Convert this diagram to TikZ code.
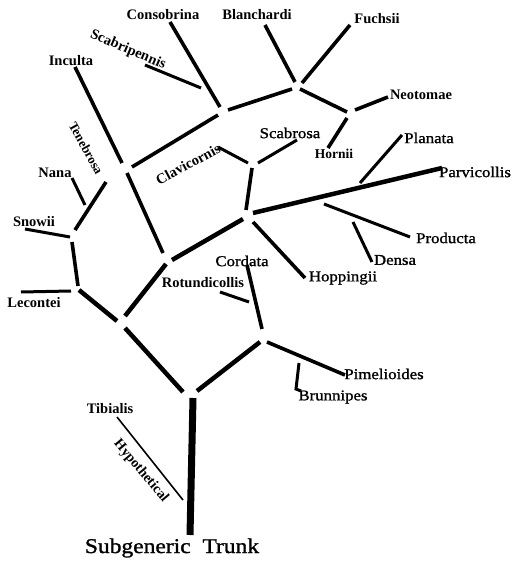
\documentclass[tikz,border=0pt]{standalone}
\usepackage{fontspec}
\setmainfont{Liberation Serif}
\newfontfamily\widefont[FakeStretch=1.12,FakeBold=1.2]{Liberation Serif}
\begin{document}
\begin{tikzpicture}[x=1pt,y=-1pt,
  trunk/.style={line width=7pt},
  br/.style={line width=4.5pt},
  tw/.style={line width=3.6pt},
  ld/.style={line width=3pt},
  thinl/.style={line width=1.6pt},
  lb/.style={inner sep=0pt, font=\fontsize{14.5}{15}\selectfont\bfseries},
  lr/.style={inner sep=0pt, font=\fontsize{15}{16}\selectfont\widefont}]
\useasboundingbox (0,0) rectangle (511,561);
% ---- coordinates
\coordinate (trT) at (193,398); \coordinate (trB) at (190,535);
\coordinate (yl1) at (183,392); \coordinate (yl2) at (125,328);
\coordinate (yr1) at (197,391); \coordinate (yr2) at (260,342);
\coordinate (p1) at (267,342);  \coordinate (p2) at (345,375);
\coordinate (b1) at (299,363);  \coordinate (b2) at (296,389); \coordinate (b3) at (301,391);
\coordinate (c1) at (262,329);  \coordinate (c2) at (247,265);
\coordinate (r1) at (220,292);  \coordinate (r2) at (249,302);
\coordinate (l1) at (117,321);  \coordinate (l2) at (79,290);
\coordinate (lc1) at (71,291);  \coordinate (lc2) at (21,292);
\coordinate (s1) at (78,286);   \coordinate (s2) at (72,242);
\coordinate (sn1) at (70,237);  \coordinate (sn2) at (25,229);
\coordinate (t1) at (75,230);   \coordinate (t2) at (106,182);
\coordinate (n1) at (85,205);   \coordinate (n2) at (72,178);
\coordinate (m1) at (125,316);  \coordinate (m2) at (166,264);
\coordinate (a1) at (163,253);  \coordinate (a2) at (127,173);
\coordinate (i1) at (122,163);  \coordinate (i2) at (75,67);
\coordinate (k1) at (132,167);  \coordinate (k2) at (218,115);
\coordinate (co1) at (220,107); \coordinate (co2) at (170,22);
\coordinate (sp1) at (201,88);  \coordinate (sp2) at (145,65);
\coordinate (cd1) at (228,110); \coordinate (cd2) at (292,89);
\coordinate (bl1) at (295,82);  \coordinate (bl2) at (265,25);
\coordinate (f1) at (302,83);   \coordinate (f2) at (350,25);
\coordinate (de1) at (300,89);  \coordinate (de2) at (347,112);
\coordinate (ne1) at (355,110); \coordinate (ne2) at (388,97);
\coordinate (h1) at (347,118);  \coordinate (h2) at (328,148);
\coordinate (bf1) at (172,260); \coordinate (bf2) at (243,219);
\coordinate (fg1) at (246,210); \coordinate (fg2) at (252,168);
\coordinate (cl1) at (248,163); \coordinate (cl2) at (218,147);
\coordinate (sc1) at (258,163); \coordinate (sc2) at (297,140);
\coordinate (pv1) at (253,213); \coordinate (pv2) at (442,168);
\coordinate (hp1) at (253,222); \coordinate (hp2) at (305,278);
\coordinate (pl1) at (360,183); \coordinate (pl2) at (402,135);
\coordinate (pr1) at (324,204); \coordinate (pr2) at (410,237);
\coordinate (dn1) at (353,222); \coordinate (dn2) at (372,262);
\coordinate (hy1) at (117,417); \coordinate (hy2) at (183,500);
% ---- labels
\node[lr] (Lpim) at (384,374) {Pimelioides};
\node[lr] (Lbru) at (333,397) {Brunnipes};
\node[lr] (Lcor) at (242,261) {Cordata};
\node[lb] (Lrot) at (203,283) {Rotundicollis};
\node[lb] (Llec) at (34,303) {Lecontei};
\node[lb] (Lsno) at (34,222) {Snowii};
\node[lb, rotate=-61, font=\fontsize{13}{14}\selectfont\bfseries] (Lten) at (86,148) {Tenebrosa};
\node[lb] (Lnan) at (55,173) {Nana};
\node[lb] (Linc) at (71,61) {Inculta};
\node[lb] (Lcon) at (163,15) {Consobrina};
\node[lb, rotate=-23] (Lsca) at (128,50) {Scabripennis};
\node[lb] (Lbla) at (257,15) {Blanchardi};
\node[lb] (Lfuc) at (377,19) {Fuchsii};
\node[lb] (Lneo) at (421,95) {Neotomae};
\node[lb, font=\fontsize{13.5}{14}\selectfont\bfseries] (Lhor) at (334,154) {Hornii};
\node[lb, rotate=28] (Lcla) at (188,164) {Clavicornis};
\node[lr] (Lscb) at (290,133) {Scabrosa};
\node[lr] (Lpar) at (475,172) {Parvicollis};
\node[lr] (Lhop) at (343,278) {Hoppingii};
\node[lr] (Lpla) at (429,138) {Planata};
\node[lr] (Lpro) at (446,238) {Producta};
\node[lr] (Lden) at (395,260) {Densa};
\node[lb] (Ltib) at (110,409) {Tibialis};
\node[lb, rotate=-50, font=\fontsize{14}{15}\selectfont\bfseries] (Lhyp) at (141,471) {Hypothetical};
\node[inner sep=0pt, font=\fontsize{21}{22}\selectfont\widefont] (Ltru) at (172,548) {Subgeneric\ \ Trunk};
% ---- branches
\draw[trunk] (trT) -- (trB);
\draw[br] (yl1) -- (yl2);
\draw[br] (yr1) -- (yr2);
\draw[br] (m1) -- (m2);
\draw[br] (l1) -- (l2);
\draw[br] (bf1) -- (bf2);
\draw[tw] (p1) -- (p2);
\draw[ld] (b1) -- (b2) -- (b3);
\draw[tw] (c1) -- (c2);
\draw[ld] (r1) -- (r2);
\draw[ld] (lc1) -- (lc2);
\draw[tw] (s1) -- (s2);
\draw[ld] (sn1) -- (sn2);
\draw[tw] (t1) -- (t2);
\draw[ld] (n1) -- (n2);
\draw[tw] (a1) -- (a2);
\draw[tw] (i1) -- (i2);
\draw[tw] (k1) -- (k2);
\draw[tw] (co1) -- (co2);
\draw[ld] (sp1) -- (sp2);
\draw[tw] (cd1) -- (cd2);
\draw[tw] (bl1) -- (bl2);
\draw[tw] (f1) -- (f2);
\draw[tw] (de1) -- (de2);
\draw[tw] (ne1) -- (ne2);
\draw[tw] (h1) -- (h2);
\draw[tw] (fg1) -- (fg2);
\draw[ld] (cl1) -- (cl2);
\draw[ld] (sc1) -- (sc2);
\draw[br] (pv1) -- (pv2);
\draw[tw] (hp1) -- (hp2);
\draw[ld] (pl1) -- (pl2);
\draw[ld] (pr1) -- (pr2);
\draw[ld] (dn1) -- (dn2);
\draw[thinl] (hy1) -- (hy2);
\end{tikzpicture}
\end{document}
